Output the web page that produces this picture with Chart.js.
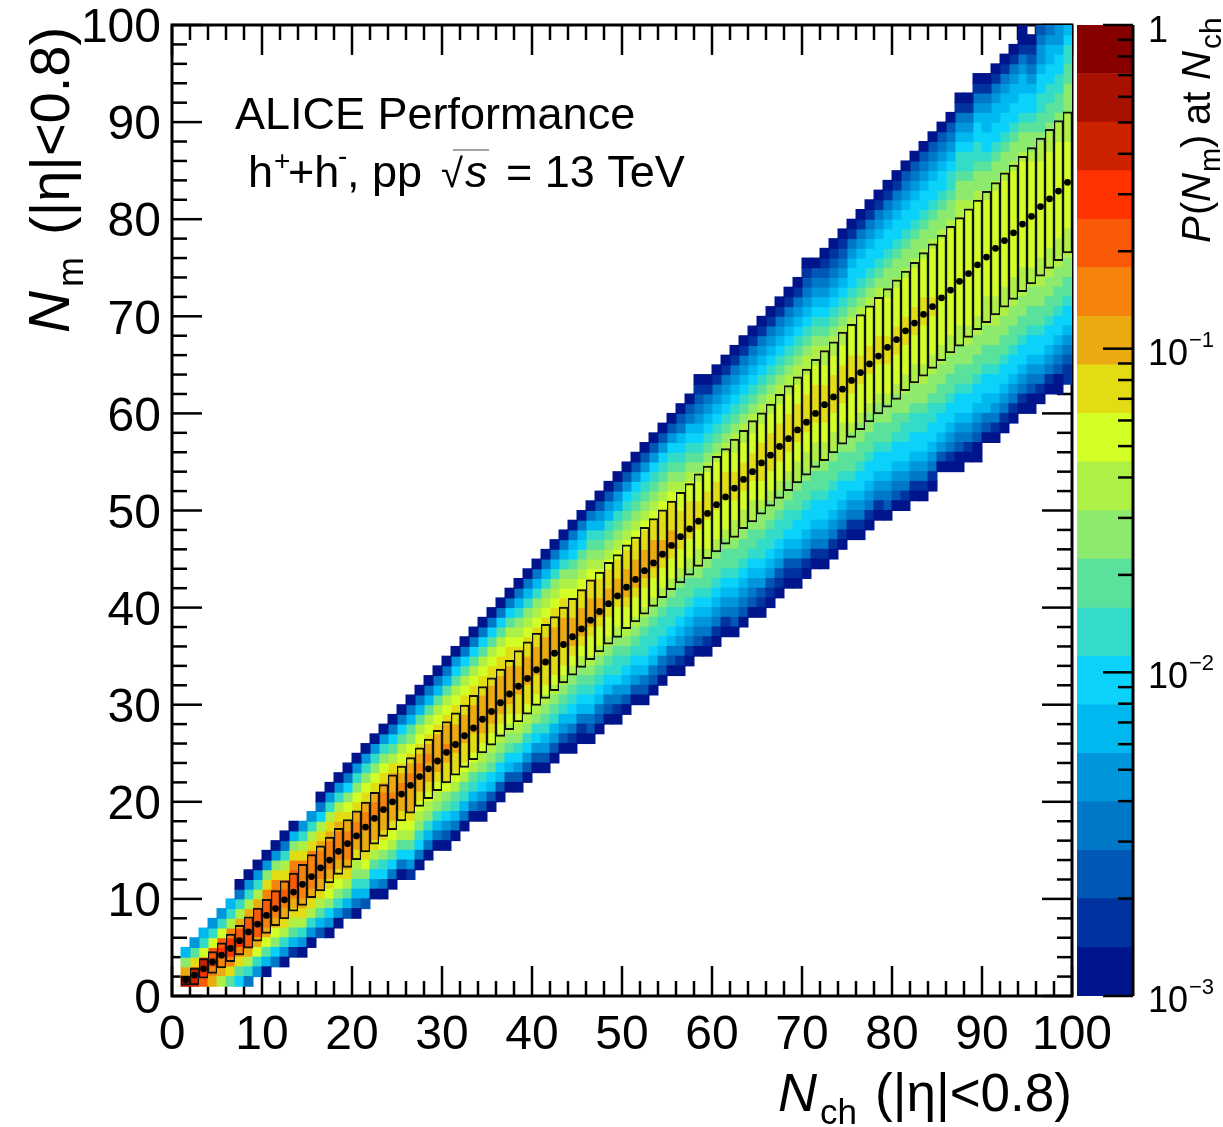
<!DOCTYPE html>
<html>
<head>
<meta charset="utf-8">
<title>Nm vs Nch</title>
<script src="https://cdn.jsdelivr.net/npm/chart.js@4"></script>
<style>
  html, body { margin: 0; padding: 0; background: #fff; }
  canvas { position: absolute; left: 0; top: 0; }
</style>
</head>
<body>
<canvas id="main" width="1223" height="1127"></canvas>
<canvas id="palette" width="1223" height="1127"></canvas>
<script>
// one colour per probability band, bottom of the colour bar first
const bandColors = ["#00148c", "#0033a0", "#0058b4", "#0078c8", "#0096dc", "#00b8f0", "#0ad2fa", "#32dcc8", "#5ae19c", "#8ceb6e",
  "#aff046", "#d2ff26", "#e1dc14", "#ebaa10", "#f4820c", "#fa5a08", "#ff3200", "#cd2200", "#a81000", "#870000"];
const bandEdges = [0.001, 0.00141, 0.002, 0.00282, 0.00398, 0.00562, 0.00794, 0.0112, 0.0158, 0.0224, 0.0316,
  0.0447, 0.0631, 0.0891, 0.126, 0.178, 0.251, 0.355, 0.501, 0.708, 1];
const paletteMinor = [0.002, 0.003, 0.004, 0.005, 0.006, 0.007, 0.008, 0.009, 0.02, 0.03, 0.04, 0.05, 0.06, 0.07, 0.08, 0.09,
  0.2, 0.3, 0.4, 0.5, 0.6, 0.7, 0.8, 0.9];
const paletteMajor = [0.001, 0.01, 0.1, 1];

// first filled Nm bin of every Nch column (Nch = 1..99)
const columnStart = [1, 1, 1, 1, 1, 1, 1, 1, 2, 2,
  3, 3, 4, 4, 5, 6, 6, 7, 8, 8,
  9, 10, 10, 11, 12, 12, 13, 14, 15, 15,
  16, 17, 18, 18, 19, 20, 21, 21, 22, 23,
  23, 24, 25, 25, 26, 26, 27, 28, 28, 29,
  30, 30, 31, 32, 33, 33, 34, 35, 35, 36,
  37, 37, 38, 39, 39, 40, 41, 42, 42, 43,
  44, 44, 45, 46, 47, 47, 48, 49, 49, 50,
  50, 51, 51, 52, 54, 54, 54, 55, 55, 57,
  57, 58, 59, 60, 60, 61, 62, 62, 63];

// band of every cell going up a column, a = lowest band ... t = highest band
const columnBands = [
  "snjf", "rrmie", "pqrlhf", "noqplhe", "knoqplhe", "imoqqokhf", "gimoqpnkhda", "dhknpppnkhea", "ehlnpppnkhea", "afilnoppomjea",
  "dgjlnoppomjea", "aehkmnopomkhda", "bfikmnoppomjfa", "aehkmnoooomkhe", "aehkmnoooomkhe", "cfikmnooonmkgda", "aegjlmnooonmkhea", "aehjlmnooonmkhea", "cfikmnooonmljgda", "adfhjkmnoonmljhea",
  "cfhjlmnnoonmljhea", "aegikmnnoonmljhea", "adghjlmnnoonmljhea", "adgiklmnnonnmkigda", "adgiklmnnonmlkigda", "begiklmnnnonmljifda", "adghjklmnnonmlkifda", "adfhjklmnnonmlkifda", "adfhjklmnnnnmlkifda", "acegijlmmnonnmlkifda",
  "adfhiklmmnnnmmlkigea", "adfhiklmmnnnmmlkigda", "adfhiklmmnnnmmlkigda", "aceghjklmnnnnmmlkigda", "acfgijklmnnnnmmlkigda", "acfgijklmnnnnmmlkigda", "acfgijklmnnnnmmlkigda", "aceghjklmmnnnmmlkjhfda", "aceghjklmmnnnmmlkjhfda", "aceghjklmmnnnmmlkjhfda",
  "acefhijklmmnnnmmlkjhfda", "acefhijklmmnnnmmlkjhfda", "acefhijklmmnnnmmlkjhfda", "abdfghijklmnnnmmlkjigfda", "abdfghijklmnnnmmlkjigfda", "acdfghijkllmnnnmmlkjihfda", "acdfghijkllmnnmmlkjihfeca", "acdfghijkllmnnmmlkjihfeca", "abdeghhijkllmnnmmlkjihfeca", "acefghijkllmnnnmmlkjihgeca",
  "acefghijkllmnnnmmlkjihgeca", "acdfghhijkllmnnnmmlkjihgeca", "acdfghhijkllmnnnmmlkjihgeca", "acdfghhijkllmnnmmmlkjihgeca", "acdfghhijkllmnnmmmlkjihgeca", "abdefghiijkllmmmmllkjihgfdca", "abdefghiijkllmmmmllkjihgfdca", "acdefghijkkllmmmllkjihgfedcba", "abdefghiijklllmmmllkjihgfedba", "abdefghiijklllmmmllkjihgfedba",
  "abdefghiijklllmmmllkjihgfedba", "acdefghiijkkllmmmllkkjihgfedba", "acdefghiijkkllmmmllkkjihgfedba", "acdefghiijkkllmmmllkkjihgfedba", "abcefghhijjkllmmmmllkkjihgfedba", "abcefghhijjkllmmmmllkkjihgfedba", "abcefghhijjkllmmmmllkkjihgfedba", "abcefghhijjkllmmmmllkkjihgfedba", "abcefgghiijkkllmmmmllkkjihgfedba", "abdefgghiijkkllmmmmllkkjihgfedcba",
  "abdefgghiijkkllmmmmllkkjihgfedca", "abdefgghiijkkllmmmmllkkjihgfedcba", "abdefgghiijkkllmmmmllkkjihgfedcba", "abdefgghiijkkllmmmmllkkjihgfedcba", "abdefghiijjklllmmmmlllkjihggfedba", "abdefgghiijjklllmmmllllkjihggfedba", "abdefgghiijjklllmmmllllkjihggfedba", "abdefgghiijjklllmmmllllkjihggfedba", "acdefgghiijjklllmmmllllkjjihggfedba", "acdefgghiijjklllmmmllllkjjihggfedba",
  "abdefgghhijjkklllmmmllllkjjihggfedca", "abdefgghhijjkklllmmmllllkjjihggfedca", "abdefgghhijjkkllllmmmllllkjjihggfedca", "abdefgghhijjkkllllmmlllllkjjihggfedca", "acefgghiijjkklllllllllllkjjihggfedca", "abdefgghiijjkklllllllllllkjjihhgfedca", "aacdefgghiijjkklllllllllllkkjjihhgfedba", "abdefgghiijjkkllllllllllllkjjihhgfedba", "aacdefgghiijjkkllllllllllllkjjihhggfedba", "acdffgghiijjkkkllllllllllkjjihggffedba",
  "abdefgghiijjkkklllllllllllkjjihggffedba", "abdefgghiijjkkklllllllllllkjjihggffedba", "abdefgghiijjkkklllllllllllkjjihggffedba", "abdefgghiijjkkklllllllllllkjjihggffedbaa", "aacdefgghiijjkklllllllllllkjjihggfedcba", "abdefgghiijjkkkllllllllllkkjiihhggfeedc", "abdefgghiijjkkkllllllllllkkjiihhggffed", "aacdefgghiijjkkkllllllllllkkjiihhggfee", "bbcdefgghiijjkkklllllllllkkkjjjiihhgf"
];

// mean Nm and the systematic box of every Nch column (Nch = 1..99)
const meanNm = [1.7, 2.15, 2.8, 3.5, 4.2, 4.9, 5.7, 6.6, 7.4, 8.3,
  9.0, 9.9, 10.7, 11.5, 12.3, 13.2, 14.0, 14.9, 15.7, 16.5,
  17.4, 18.3, 19.2, 20.0, 20.8, 21.7, 22.6, 23.4, 24.2, 25.1,
  25.9, 26.8, 27.6, 28.5, 29.3, 30.2, 31.1, 31.9, 32.7, 33.6,
  34.4, 35.3, 36.2, 37.0, 37.8, 38.7, 39.6, 40.4, 41.2, 42.1,
  42.9, 43.8, 44.6, 45.5, 46.4, 47.3, 48.1, 48.9, 49.7, 50.6,
  51.4, 52.3, 53.2, 54.0, 54.9, 55.7, 56.6, 57.4, 58.3, 59.1,
  60.0, 60.9, 61.7, 62.5, 63.4, 64.2, 65.1, 65.9, 66.8, 67.6,
  68.5, 69.3, 70.2, 71.0, 71.9, 72.7, 73.6, 74.4, 75.3, 76.1,
  77.0, 77.8, 78.6, 79.5, 80.3, 81.3, 82.1, 82.9, 83.8];
const boxHigh = [2.1, 2.9, 3.9, 4.6, 5.5, 6.4, 7.3, 8.2, 9.1, 10,
  10.9, 11.9, 12.7, 13.6, 14.6, 15.5, 16.4, 17.3, 18.2, 19.1,
  20, 21, 21.8, 22.8, 23.7, 24.6, 25.6, 26.5, 27.4, 28.3,
  29.2, 30, 31, 31.9, 32.8, 33.7, 34.6, 35.6, 36.5, 37.4,
  38.3, 39.1, 40.1, 41, 41.9, 42.9, 43.7, 44.7, 45.5, 46.5,
  47.3, 48.3, 49.2, 50.1, 51, 51.9, 52.8, 53.8, 54.6, 55.6,
  56.4, 57.4, 58.3, 59.3, 60.1, 61, 62, 62.9, 63.8, 64.6,
  65.6, 66.5, 67.4, 68.4, 69.2, 70.2, 71.1, 72, 72.9, 73.8,
  74.7, 75.6, 76.6, 77.5, 78.4, 79.3, 80.2, 81.1, 82, 82.9,
  83.8, 84.8, 85.6, 86.5, 87.4, 88.4, 89.3, 90.2, 91.1];
const boxLow = [1.1, 1.1, 1.8, 2.3, 2.85, 3.5, 4.2, 4.9, 5.6, 6.4,
  7.2, 7.9, 8.7, 9.3, 10.1, 10.8, 11.6, 12.5, 13.2, 14,
  14.8, 15.6, 16.4, 17.1, 18, 18.8, 19.5, 20.3, 21.1, 21.9,
  22.7, 23.5, 24.3, 25, 25.8, 26.7, 27.4, 28.2, 29, 29.9,
  30.6, 31.4, 32.2, 33, 33.8, 34.6, 35.4, 36.2, 36.9, 37.8,
  38.5, 39.3, 40.1, 41, 41.8, 42.5, 43.3, 44.2, 45, 45.7,
  46.5, 47.2, 48.1, 48.8, 49.6, 50.4, 51.2, 52, 52.8, 53.6,
  54.4, 55.1, 55.9, 56.8, 57.5, 58.3, 59.1, 59.9, 60.6, 61.4,
  62.3, 63.1, 63.8, 64.6, 65.4, 66.2, 66.9, 67.8, 68.6, 69.3,
  70.1, 70.9, 71.7, 72.5, 73.3, 74.1, 74.9, 75.7, 76.5];

const FONT = '"Liberation Sans"';
const tickFont = { family: FONT, size: 48 };

// draws pieces of text along one baseline, each piece has its own offset and font
function drawRuns(ctx, runs) {
  ctx.fillStyle = "#000";
  ctx.textAlign = "left";
  ctx.textBaseline = "alphabetic";
  runs.forEach((r) => {
    ctx.font = `${r.italic ? "italic " : ""}${r.size}px ${FONT}`;
    ctx.fillText(r.text, r.x, r.dy || 0);
  });
}

function line(ctx, x1, y1, x2, y2) {
  ctx.beginPath();
  ctx.moveTo(x1, y1);
  ctx.lineTo(x2, y2);
  ctx.stroke();
}

// cells: one dataset per band, a run of equal cells in a column becomes one floating bar
const cellData = bandColors.map(() => []);
columnBands.forEach((bands, c) => {
  let row = columnStart[c];
  let i = 0;
  while (i < bands.length) {
    let n = 1;
    while (bands[i + n] === bands[i]) n++;
    cellData[bands.charCodeAt(i) - 97].push({ x: c + 1.5, y: [row, row + n] });
    row += n;
    i += n;
  }
});

const cellDatasets = cellData.map((data, k) => ({
  type: "bar",
  data: data,
  backgroundColor: bandColors[k],
  borderWidth: 0,
  inflateAmount: 0.5,
  grouped: false,
  barThickness: 9,
  order: 3,
}));

const boxDataset = {
  type: "bar",
  data: meanNm.map((m, c) => ({ x: c + 1.5, y: [boxLow[c], boxHigh[c]] })),
  backgroundColor: "rgba(0,0,0,0)",
  borderColor: "#111",
  borderWidth: { top: 2, bottom: 2, left: 1.2, right: 1.2 },
  borderSkipped: false,
  inflateAmount: 0,
  grouped: false,
  barThickness: 9,
  order: 2,
};

const meanDataset = {
  type: "line",
  data: meanNm.map((m, c) => ({ x: c + 1.5, y: m })),
  showLine: false,
  pointRadius: 3.4,
  pointBackgroundColor: "#000",
  pointBorderWidth: 0,
  order: 1,
};

// ROOT style frame, ticks point inwards and sit under the cells
const framePlugin = {
  id: "frame",
  beforeDatasetsDraw(chart) {
    const ctx = chart.ctx;
    const a = chart.chartArea;
    const xs = chart.scales.x;
    const ys = chart.scales.y;
    ctx.save();
    ctx.strokeStyle = "#000";
    ctx.lineWidth = 2.5;
    for (let v = 0; v <= 100; v += 2) {
      const len = v % 10 === 0 ? 30 : 15;
      const px = xs.getPixelForValue(v);
      const py = ys.getPixelForValue(v);
      line(ctx, px, a.bottom, px, a.bottom - len);
      line(ctx, px, a.top, px, a.top + len);
      line(ctx, a.left, py, a.left + len, py);
      line(ctx, a.right, py, a.right - len, py);
    }
    ctx.lineWidth = 3;
    ctx.strokeRect(a.left, a.top, a.right - a.left, a.bottom - a.top);
    ctx.restore();
  },
  afterDraw(chart) {
    const ctx = chart.ctx;
    // y axis title
    ctx.save();
    ctx.translate(69, 333);
    ctx.rotate(-Math.PI / 2);
    drawRuns(ctx, [
      { text: "N", x: 0, size: 58, italic: true },
      { text: "m", x: 46, size: 36, dy: 14 },
      { text: "(|η|<0.8)", x: 98, size: 56 },
    ]);
    ctx.restore();
    // x axis title
    ctx.save();
    ctx.translate(778, 1111);
    drawRuns(ctx, [
      { text: "N", x: 0, size: 54, italic: true },
      { text: "ch", x: 42, size: 35, dy: 13 },
      { text: "(|η|<0.8)", x: 97, size: 53 },
    ]);
    ctx.restore();
    // labels inside the frame
    ctx.save();
    ctx.translate(235, 129);
    drawRuns(ctx, [{ text: "ALICE Performance", x: 0, size: 45 }]);
    ctx.restore();
    ctx.save();
    ctx.translate(248, 187);
    drawRuns(ctx, [
      { text: "h", x: 0, size: 45 },
      { text: "+", x: 26, size: 28, dy: -17 },
      { text: "+h", x: 40, size: 45 },
      { text: "-", x: 90, size: 28, dy: -22 },
      { text: ", pp", x: 99, size: 45 },
      { text: "√", x: 193, size: 40 },
      { text: "s", x: 217, size: 45, italic: true },
      { text: "= 13 TeV", x: 258, size: 45 },
    ]);
    ctx.strokeStyle = "#444";
    ctx.lineWidth = 1;
    line(ctx, 205, -37, 241, -37);
    ctx.restore();
  },
};

new Chart(document.getElementById("main"), {
  type: "bar",
  data: { datasets: [...cellDatasets, boxDataset, meanDataset] },
  options: {
    responsive: false,
    animation: false,
    layout: { padding: { top: 25, right: 151, left: 0, bottom: 0 } },
    plugins: { legend: { display: false }, tooltip: { enabled: false } },
    scales: {
      x: {
        type: "linear",
        min: 0,
        max: 100,
        offset: false,
        grid: { display: false, drawTicks: false },
        border: { display: false },
        ticks: { stepSize: 10, autoSkip: false, maxRotation: 0, padding: 11, color: "#000", font: tickFont },
        afterFit(scale) {
          scale.height = 131;
          scale.paddingLeft = 0;
          scale.paddingRight = 0;
        },
      },
      y: {
        type: "linear",
        min: 0,
        max: 100,
        grid: { display: false, drawTicks: false },
        border: { display: false },
        ticks: { stepSize: 10, autoSkip: false, padding: 11, labelOffset: 4, color: "#000", font: tickFont },
        afterFit(scale) {
          scale.width = 172;
          scale.paddingTop = 0;
          scale.paddingBottom = 0;
        },
      },
    },
  },
  plugins: [framePlugin],
});

// colour bar
const palettePlugin = {
  id: "paletteAxis",
  afterDraw(chart) {
    const ctx = chart.ctx;
    const a = chart.chartArea;
    const ys = chart.scales.y;
    ctx.save();
    ctx.strokeStyle = "#000";
    ctx.lineWidth = 2.5;
    paletteMinor.forEach((v) => {
      const py = ys.getPixelForValue(v);
      line(ctx, a.right, py, a.right - 15, py);
    });
    paletteMajor.forEach((v) => {
      const py = ys.getPixelForValue(v);
      line(ctx, a.right, py, a.right - 30, py);
    });
    ctx.lineWidth = 3;
    line(ctx, a.right, a.top, a.right, a.bottom);
    ctx.restore();

    ctx.save();
    ctx.translate(1148, ys.getPixelForValue(1) + 17);
    drawRuns(ctx, [{ text: "1", x: 0, size: 36 }]);
    ctx.restore();
    [[0.1, "−1"], [0.01, "−2"], [0.001, "−3"]].forEach(([v, power]) => {
      ctx.save();
      ctx.translate(1148, ys.getPixelForValue(v) + 16);
      drawRuns(ctx, [
        { text: "10", x: 0, size: 36 },
        { text: power, x: 41, size: 22, dy: -18 },
      ]);
      ctx.restore();
    });

    ctx.save();
    ctx.translate(1210, 243);
    ctx.rotate(-Math.PI / 2);
    drawRuns(ctx, [
      { text: "P", x: 0, size: 40, italic: true },
      { text: "(", x: 28, size: 40 },
      { text: "N", x: 41, size: 40, italic: true },
      { text: "m", x: 71, size: 29, dy: 10 },
      { text: ")", x: 95, size: 40 },
      { text: "at", x: 118, size: 40 },
      { text: "N", x: 163, size: 40, italic: true },
      { text: "ch", x: 194, size: 30, dy: 11 },
    ]);
    ctx.restore();
  },
};

new Chart(document.getElementById("palette"), {
  type: "bar",
  data: {
    labels: ["P"],
    datasets: bandColors.map((color, k) => ({
      data: [[bandEdges[k], bandEdges[k + 1]]],
      backgroundColor: color,
      borderWidth: 0,
      grouped: false,
      categoryPercentage: 1,
      barPercentage: 1,
    })),
  },
  options: {
    responsive: false,
    animation: false,
    layout: { padding: { left: 1077, right: 90, top: 25, bottom: 131 } },
    plugins: { legend: { display: false }, tooltip: { enabled: false } },
    scales: {
      x: { display: false },
      y: { type: "logarithmic", min: 0.001, max: 1, display: false },
    },
  },
  plugins: [palettePlugin],
});
</script>
</body>
</html>
